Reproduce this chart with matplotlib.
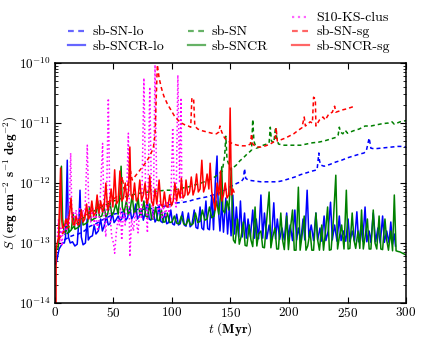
import numpy as np
import matplotlib
matplotlib.use("Agg")
import matplotlib.pyplot as plt
from matplotlib.lines import Line2D
from matplotlib.ticker import LogLocator, NullFormatter, FixedLocator, FixedFormatter

plt.rcParams['mathtext.fontset'] = 'cm'

# ---------------- data (t in Myr, log10 S) ----------------
sn_lo_t = [8, 12, 16, 20, 25, 30, 35, 40, 45, 50, 55, 60, 65, 70, 75, 80, 85, 90, 95, 100,
           105, 110, 115, 120, 125, 130, 135, 140, 145, 150, 153, 156, 159, 161, 162, 163, 165,
           168, 172, 176, 180, 185, 190, 195, 200, 205, 210, 215, 220, 224, 225.5, 226, 227,
           230, 235, 240, 245, 250, 255, 260, 264, 266, 268.5, 270, 273, 278, 283, 288, 293, 298, 300]
sn_lo_lg = [-12.95, -12.9, -12.87, -12.85, -12.8, -12.72, -12.68, -12.62, -12.57, -12.52, -12.5,
            -12.47, -12.45, -12.44, -12.44, -12.43, -12.42, -12.4, -12.38, -12.35, -12.33, -12.32,
            -12.3, -12.27, -12.25, -12.23, -12.2, -12.17, -12.12, -12.06, -12.03, -12.0, -11.98,
            -11.93, -11.76, -11.92, -11.95, -11.96, -11.97, -11.98, -11.98, -11.98, -11.98, -11.96,
            -11.93, -11.9, -11.86, -11.83, -11.8, -11.78, -11.5, -11.62, -11.7, -11.72, -11.69,
            -11.65, -11.62, -11.58, -11.55, -11.52, -11.5, -11.47, -11.25, -11.42, -11.43, -11.42,
            -11.41, -11.4, -11.39, -11.39, -11.4]

sncr_lo_t = [0.5, 1.5, 2.5, 3.5, 5, 6.5, 8, 9, 10.5, 11.5, 13, 15, 17, 19, 20.5, 21.4, 22.5, 24, 26,
             27.5, 28.5, 30, 32, 33.5, 35, 37, 39, 40.5, 42, 44, 45.5, 47, 49, 50.5, 52, 54, 55.5,
             57, 59, 60.5, 62, 64, 65.5, 67, 69, 70.5, 72, 74, 75.5, 77, 79, 80.5, 82, 84, 85.5,
             87, 89, 90.5, 92, 94, 95.5, 97, 99, 100.5, 102, 104, 105.5, 107, 109, 110.5, 112, 114,
             115.5, 117, 119, 120.5, 122, 124, 125.5, 127, 129, 130.5, 132, 134, 135.5, 137, 138.5,
             139.5, 141, 142.5, 144, 146, 147.5, 149, 150.5, 152, 153.5, 155, 157, 158.5, 160, 162,
             163.5, 165, 167, 169, 170.5, 172, 174, 176, 177.5, 179, 181, 183, 185, 187, 188.5,
             190, 192, 194, 196, 198, 199.5, 201, 203, 205, 206.5, 208, 210, 212, 213.5, 215.5,
             217, 219, 221, 223, 224.5, 226.5, 228, 230, 231.5, 233.5, 235.5, 237, 239, 241, 243,
             244.5, 246.5, 248.5, 250.5, 252, 254, 256, 258, 259.5, 261.5, 263, 265, 266.5, 268.5,
             270, 272, 274, 276, 278, 280, 281.5, 283.5, 285.5, 287, 288.5, 290, 291]
sncr_lo_lg = [-13.35, -13.3, -13.2, -13.1, -13.05, -13.0, -13.0, -12.9, -11.62, -12.9, -13.0,
              -12.98, -13.05, -13.02, -12.6, -12.12, -12.9, -13.03, -13.0, -12.6, -12.95, -12.9,
              -12.88, -12.7, -12.85, -12.8, -12.6, -12.8, -12.72, -12.55, -12.7, -12.68, -12.5,
              -12.66, -12.62, -12.55, -12.63, -12.6, -12.45, -12.62, -12.58, -12.4, -12.6, -12.55,
              -12.35, -12.6, -12.55, -12.45, -12.62, -12.5, -12.3, -12.6, -12.62, -12.45, -12.65,
              -12.6, -12.38, -12.64, -12.66, -12.5, -12.68, -12.66, -12.45, -12.68, -12.7, -12.52,
              -12.7, -12.68, -12.48, -12.7, -12.72, -12.5, -12.73, -12.7, -12.45, -12.74, -12.76,
              -12.4, -12.75, -12.78, -12.3, -12.76, -12.78, -12.2, -12.78, -12.0, -11.55, -12.4,
              -12.8, -12.3, -12.82, -12.25, -12.85, -12.4, -12.88, -12.2, -12.85, -12.4, -12.9,
              -12.3, -12.9, -12.5, -12.92, -12.6, -12.9, -12.45, -12.92, -12.6, -12.93, -12.2,
              -12.92, -12.5, -12.93, -12.7, -12.94, -12.33, -12.93, -12.6, -12.94, -12.75, -12.95,
              -12.5, -12.94, -12.7, -12.96, -12.45, -12.95, -12.75, -12.97, -12.6, -12.95, -12.12,
              -12.9, -12.7, -12.96, -12.5, -12.95, -12.75, -12.97, -12.55, -12.96, -12.8, -12.32,
              -12.95, -12.7, -12.97, -12.55, -12.96, -12.8, -12.97, -12.6, -12.98, -12.8, -12.97,
              -12.48, -12.98, -12.75, -12.97, -12.4, -12.98, -12.8, -12.99, -12.5, -12.98, -12.75,
              -13.0, -12.55, -12.99, -12.8, -13.0, -12.65, -13.02, -12.85, -13.05]

sn_t = [10, 15, 20, 25, 30, 35, 40, 45, 50, 55, 60, 65, 70, 75, 80, 85, 90, 95, 100, 105, 110,
        115, 120, 125, 130, 135, 140, 143, 145, 146, 147, 149, 150, 152, 155, 158, 161, 164, 167,
        168, 169, 170, 172, 175, 178, 181, 183, 184, 185, 187, 188.5, 189.5, 191, 195, 200, 205,
        210, 215, 220, 225, 230, 235, 240, 242, 243, 244, 246, 248, 250, 255, 260, 265, 270, 275,
        280, 285, 288, 290, 295, 300]
sn_lg = [-12.85, -12.75, -12.65, -12.57, -12.5, -12.45, -12.4, -12.35, -12.3, -12.27, -12.23,
         -12.2, -12.18, -12.16, -12.15, -12.14, -12.13, -12.12, -12.12, -12.1, -12.08, -12.06,
         -12.03, -12.0, -11.96, -11.92, -11.85, -11.8, -11.55, -11.22, -11.6, -11.72, -11.78,
         -11.75, -11.7, -11.63, -11.58, -11.52, -11.47, -11.45, -10.94, -11.3, -11.42, -11.4,
         -11.37, -11.35, -11.33, -11.07, -11.3, -11.33, -11.07, -11.25, -11.35, -11.37, -11.37,
         -11.37, -11.37, -11.35, -11.33, -11.32, -11.3, -11.27, -11.24, -11.2, -11.07, -11.15,
         -11.18, -11.12, -11.17, -11.13, -11.1, -11.05, -11.05, -11.03, -11.01, -11.0, -10.98,
         -11.02, -10.98, -10.96]

sncr_t = [2.5, 3.5, 4.5, 5.5, 6.5, 8, 9.5, 11, 12, 14, 15.5, 17, 19, 21, 22.5, 24, 26, 28, 29.5,
          31, 33, 35, 36.5, 38, 40, 42, 43.5, 45, 47, 48.5, 50, 52, 54, 55.5, 56.5, 57.5, 59, 61,
          62.5, 64, 66, 67.5, 69, 71, 72.5, 74, 76, 77.5, 79, 81, 82.5, 84, 86, 87.5, 89, 91,
          92.5, 94, 96, 98, 100, 102, 104, 106, 108, 110, 112, 114, 116, 118, 120, 122, 124, 126,
          128, 130, 132, 134, 136, 138, 140, 141.5, 142.5, 143.5, 145, 147, 148.5, 150, 150.8,
          151.5, 152.5, 154, 156, 157.5, 159, 161, 162.5, 164, 166, 167.5, 169, 171, 172.5, 174,
          176, 177.5, 179, 181, 183, 184.5, 186, 188, 189.5, 191, 193, 194.5, 196, 198, 199.5,
          201, 203, 204.5, 206, 208, 209.5, 211, 213, 214.5, 216, 218, 219.5, 221, 223, 224.5,
          226, 228, 229.5, 231, 233, 234.5, 236, 238, 240, 241.5, 243, 245, 247, 249, 250.5, 252,
          254, 255.5, 257, 259, 260.5, 262, 263.5, 265, 267, 268.5, 270, 272, 273.5, 275, 277,
          278.5, 280, 282, 283.5, 285, 287, 288.5, 290, 291.5, 293, 295, 297, 300]
sncr_lg = [-13.1, -12.95, -12.2, -11.72, -12.6, -12.85, -12.8, -12.6, -12.82, -12.78, -12.5,
           -12.77, -12.75, -12.72, -12.45, -12.7, -12.68, -12.65, -12.4, -12.63, -12.6, -12.58,
           -12.3, -12.57, -12.55, -12.4, -12.56, -12.52, -12.3, -12.54, -12.5, -12.35, -12.52,
           -12.2, -11.72, -12.4, -12.5, -12.3, -12.52, -12.48, -12.2, -12.5, -12.48, -12.25,
           -12.52, -12.53, -12.3, -12.55, -12.57, -12.35, -12.6, -12.6, -12.4, -12.62, -12.63,
           -12.45, -12.65, -12.65, -12.5, -12.66, -12.65, -12.55, -12.67, -12.68, -12.55, -12.68,
           -12.7, -12.6, -12.7, -12.68, -12.5, -12.66, -12.64, -12.45, -12.62, -12.6, -12.4,
           -12.58, -12.55, -12.3, -12.52, -12.2, -11.73, -12.45, -12.5, -12.3, -12.45, -12.0,
           -11.75, -12.5, -12.95, -13.0, -12.6, -13.02, -12.9, -12.65, -13.04, -13.05, -12.7,
           -12.95, -13.06, -12.4, -13.05, -12.85, -12.8, -13.07, -13.08, -12.6, -12.15, -13.08,
           -12.9, -12.75, -13.1, -13.1, -12.5, -12.95, -13.11, -12.55, -13.11, -12.8, -12.45,
           -13.12, -13.12, -12.07, -13.12, -12.9, -12.55, -13.12, -13.05, -12.8, -13.12, -13.12,
           -12.5, -12.95, -13.12, -12.7, -13.12, -12.85, -12.4, -13.12, -13.11, -12.6, -11.87,
           -13.1, -12.9, -12.7, -13.1, -12.12, -13.1, -13.09, -12.5, -12.95, -13.09, -12.8,
           -13.09, -12.45, -13.1, -12.9, -12.6, -13.1, -13.1, -12.45, -13.0, -13.1, -12.55,
           -13.1, -13.11, -12.6, -12.95, -13.12, -12.8, -13.13, -12.2, -13.13, -13.14, -13.15,
           -13.17, -13.2]

clus_t = [2, 3, 4, 5, 6, 7, 8, 9, 10, 11, 12, 13.4, 14.5, 16, 17, 18, 19.5, 21, 22.5, 24, 25.5,
          27.6, 29, 30.5, 32, 33.5, 35, 36.5, 38, 40.7, 42, 43.5, 45.6, 47, 48.5, 50, 51, 52.5,
          54, 55, 56, 57, 58.5, 60, 61, 62.7, 64, 65.5, 67, 68.5, 70, 71, 72.5, 74, 76, 77.5, 79,
          81, 82.5, 84, 85.5, 87, 88.5, 90, 91.5, 93, 94.6, 96, 97.5, 99, 100.6, 102, 103.5, 105,
          106.5, 107.7, 108.5]
clus_lg = [-12.9, -12.6, -13.0, -12.75, -13.05, -12.7, -12.85, -12.6, -12.8, -12.55, -12.7,
           -11.5, -12.6, -12.5, -12.7, -12.45, -12.65, -12.4, -12.6, -12.45, -12.55, -11.37,
           -12.5, -12.65, -12.4, -12.7, -12.5, -12.8, -12.55, -11.34, -12.6, -12.9, -10.59,
           -12.5, -12.9, -13.0, -13.17, -12.8, -12.6, -12.7, -12.4, -12.95, -12.5, -12.7, -12.4,
           -11.17, -13.23, -12.6, -12.8, -12.5, -12.7, -12.83, -12.4, -12.6, -10.25, -12.2,
           -12.83, -10.4, -12.3, -12.6, -10.03, -12.2, -12.5, -12.3, -12.6, -12.35, -12.57,
           -12.3, -12.5, -12.3, -11.08, -12.2, -12.4, -10.2, -12.0, -10.58, -12.3]

sn_sg_t = [3, 6, 10, 15, 20, 25, 30, 35, 40, 45, 50, 53, 56, 57.5, 59, 62, 64.5, 66, 70, 74, 78,
           81, 84, 85.5, 86.5, 87.5, 89, 91, 93, 96, 99, 102, 105, 108, 111, 114, 116, 117, 118.5,
           119.5, 122, 126, 130, 134, 138, 140, 141, 142.5, 145, 148, 152, 156, 160, 164, 167, 168,
           169, 172, 176, 180, 184, 188, 189, 190, 193, 197, 200, 204, 208, 211, 213, 214, 216,
           218, 220, 221, 222.5, 223, 226, 229, 231, 234, 237, 239, 240, 243, 246, 250, 253, 256]
sn_sg_lg = [-12.95, -12.85, -12.75, -12.7, -12.62, -12.55, -12.48, -12.42, -12.38, -12.32,
            -12.27, -12.22, -12.18, -11.9, -12.1, -12.05, -11.8, -11.95, -11.85, -11.75, -11.65,
            -11.55, -11.42, -11.2, -10.6, -10.03, -10.25, -10.42, -10.55, -10.68, -10.78, -10.88,
            -10.95, -11.0, -11.03, -11.05, -11.07, -10.58, -10.6, -11.05, -11.1, -11.13, -11.15,
            -11.17, -11.18, -11.15, -11.05, -11.15, -11.25, -11.3, -11.35, -11.37, -11.38,
            -11.38, -11.35, -11.18, -11.35, -11.4, -11.4, -11.38, -11.35, -11.3, -11.08, -11.3,
            -11.28, -11.25, -11.22, -11.18, -11.12, -11.08, -10.9, -11.05, -11.02, -10.98, -11.0,
            -10.57, -10.6, -11.05, -10.95, -10.9, -10.95, -10.85, -10.82, -10.72, -10.82, -10.8,
            -10.78, -10.76, -10.74, -10.72]

sncr_sg_t = [0.8, 1.0, 2, 3, 4, 4.8, 5.6, 6.5, 8, 9.5, 11, 12.5, 13.7, 15, 16.5, 18, 19.5, 21,
             22.5, 24, 25.5, 27, 28.5, 30, 31.5, 33, 34.5, 36, 37.5, 39, 40.5, 42, 43.5, 45, 46.5,
             48, 49.5, 51, 52.5, 54, 55.5, 57, 58.5, 60, 61.5, 63, 64, 65, 66.5, 68, 69.5, 71,
             72.5, 74, 75.5, 77, 78.5, 80, 81, 82.5, 84, 85.5, 87, 89, 90.5, 92, 93.5, 95, 96.5,
             98, 99.5, 101, 102.5, 104, 105.5, 107, 108, 109.5, 111, 112, 113.5, 115, 116.5, 118,
             119.5, 121, 122.5, 124, 125.5, 127, 128.5, 130, 131.5, 132.6, 134, 135.5, 137, 138.5,
             140, 141.5, 142.5, 144, 145.5, 147, 148.5, 149.7, 150.8, 152, 153]
sncr_sg_lg = [-14.5, -13.1, -13.0, -12.9, -12.3, -11.75, -12.6, -12.75, -12.72, -12.6, -12.7,
              -12.5, -12.25, -12.65, -12.7, -12.55, -12.7, -12.68, -12.45, -12.65, -12.6, -12.35,
              -12.6, -12.55, -12.3, -12.55, -12.5, -12.2, -12.5, -12.3, -12.48, -12.4, -12.0,
              -12.45, -12.35, -12.1, -12.4, -11.78, -12.35, -12.3, -11.8, -12.3, -12.25, -12.0,
              -12.3, -12.1, -11.4, -12.2, -12.28, -12.0, -12.3, -12.25, -11.95, -12.3, -12.2,
              -12.0, -12.35, -12.25, -11.88, -12.3, -12.38, -12.1, -12.35, -11.95, -12.35, -12.4,
              -12.15, -12.38, -12.4, -12.2, -12.38, -12.3, -12.0, -12.3, -12.1, -12.25, -11.92,
              -12.25, -12.2, -11.95, -12.2, -12.15, -11.9, -12.2, -12.1, -11.85, -12.15, -12.1,
              -11.62, -12.15, -12.05, -11.85, -12.1, -11.67, -12.15, -12.3, -12.45, -12.0, -12.2,
              -11.8, -12.3, -12.2, -12.0, -12.25, -12.2, -10.75, -12.2, -12.1, -12.15]

labels = ['sb-SN-lo', 'sb-SNCR-lo', 'sb-SN', 'sb-SNCR', 'S10-KS-clus', 'sb-SN-sg', 'sb-SNCR-sg']

# ---------------- figure ----------------
fig = plt.figure(figsize=(4.21, 3.37), dpi=100)
ax = fig.add_axes([0.1306, 0.1009, 0.8338, 0.7121])

dash = (0, (2.6, 2.0))
series = [
    (sn_lo_t, sn_lo_lg, 'blue', dash),
    (sncr_lo_t, sncr_lo_lg, 'blue', '-'),
    (sn_t, sn_lg, 'green', dash),
    (sncr_t, sncr_lg, 'green', '-'),
    (clus_t, clus_lg, 'magenta', ':'),
    (sn_sg_t, sn_sg_lg, 'red', dash),
    (sncr_sg_t, sncr_sg_lg, 'red', '-'),
]
handles = []
for (t, lg, c, ls), lab in zip(series, labels):
    ax.plot(t, 10.0 ** np.asarray(lg), color=c, ls=ls, lw=1.1)
    handles.append(Line2D([], [], color=c, ls=ls, lw=1.6, alpha=0.6))

ax.set_yscale('log')
ax.set_xlim(0, 300)
ax.set_ylim(1e-14, 1e-10)

yt = [1e-14, 1e-13, 1e-12, 1e-11, 1e-10]
ax.yaxis.set_major_locator(FixedLocator(yt))
ax.yaxis.set_major_formatter(FixedFormatter([r'$\mathbf{10^{-14}}$', r'$\mathbf{10^{-13}}$',
                                             r'$\mathbf{10^{-12}}$', r'$\mathbf{10^{-11}}$',
                                             r'$\mathbf{10^{-10}}$']))
ax.yaxis.set_minor_locator(LogLocator(base=10, subs=np.arange(2, 10), numticks=20))
ax.yaxis.set_minor_formatter(NullFormatter())
xt = [0, 50, 100, 150, 200, 250, 300]
ax.xaxis.set_major_locator(FixedLocator(xt))
ax.xaxis.set_major_formatter(FixedFormatter([r'$\mathbf{%d}$' % v for v in xt]))
ax.tick_params(which='both', direction='in', top=True, right=True, labelsize=9.5, pad=3)
ax.tick_params(axis='x', pad=2)
ax.tick_params(which='major', length=4, width=0.8)
ax.tick_params(which='minor', length=2, width=0.6)
for s in ax.spines.values():
    s.set_linewidth(1.1)

ax.set_xlabel(r'$t\ \mathbf{(Myr)}$', fontsize=9.5, labelpad=0)
ax.set_ylabel(r'$S\ \mathbf{(erg\ cm^{-2}\ s^{-1}\ deg^{-2})}$', fontsize=9.5, labelpad=-1)

blank = Line2D([], [], color='none')
leg_h = [blank, handles[0], handles[1], blank, handles[2], handles[3], handles[4], handles[5], handles[6]]
leg_l = [' ', labels[0], labels[1], ' ', labels[2], labels[3], labels[4], labels[5], labels[6]]
ax.legend(leg_h, leg_l, ncol=3, loc='lower center', bbox_to_anchor=(0.495, 1.0), frameon=False,
          prop={'family': 'cmr10', 'size': 10}, handlelength=1.25, columnspacing=1.7,
          labelspacing=0.1, handletextpad=0.5, borderaxespad=0.35)

fig.savefig('out.png', dpi=100)
